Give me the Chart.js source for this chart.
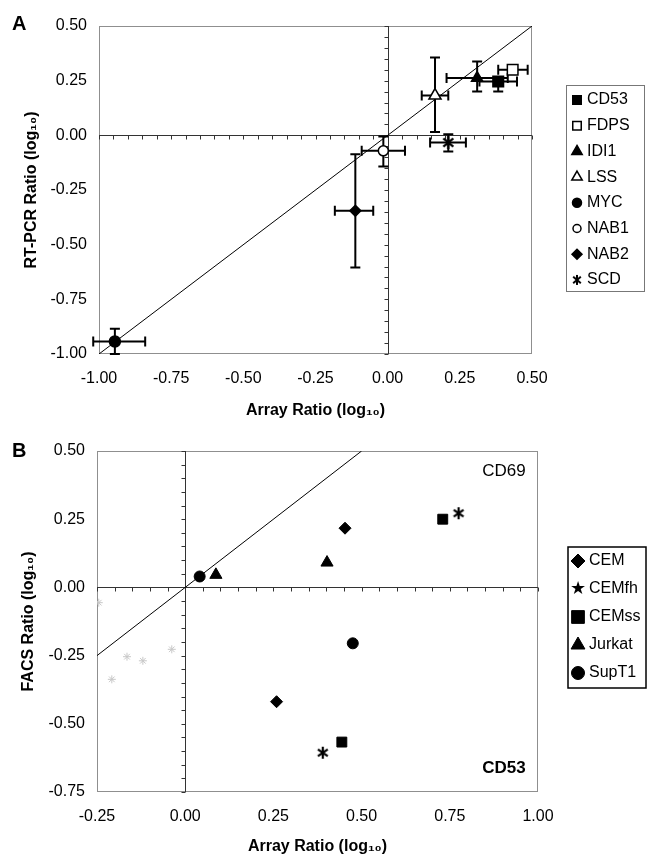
<!DOCTYPE html>
<html>
<head>
<meta charset="utf-8">
<title>Array vs RT-PCR / FACS ratios</title>
<script src="https://cdn.jsdelivr.net/npm/chart.js@4.4.0/dist/chart.umd.min.js"></script>
<style>
  html, body { margin: 0; padding: 0; background: #fff; }
  #wrap { position: relative; width: 647px; height: 856px; }
  #chartA { position: absolute; left: 0; top: 0; }
  #chartB { position: absolute; left: 0; top: 425px; }
</style>
</head>
<body>
<div id="wrap">
  <canvas id="chartA" width="647" height="425"></canvas>
  <canvas id="chartB" width="647" height="431"></canvas>
</div>
<script>
// ---- Panel A: array ratio vs RT-PCR ratio (log10), with error bars ----
const genes     = ['CD53', 'FDPS', 'IDI1', 'LSS', 'MYC', 'NAB1', 'NAB2', 'SCD'];
const arrayA    = [0.383, 0.433, 0.310, 0.164, -0.945, -0.015, -0.112, 0.210];
const pcrA      = [0.246, 0.300, 0.262, 0.182, -0.943, -0.071, -0.345, -0.033];
const arrayLowA = [0.318, 0.383, 0.204, 0.118, -1.020, -0.090, -0.183, 0.147];
const arrayHiA  = [0.448, 0.485, 0.416, 0.210, -0.840, 0.060, -0.050, 0.271];
const pcrLowA   = [0.200, 0.282, 0.200, 0.015, -1.000, -0.143, -0.604, -0.074];
const pcrHiA    = [0.266, 0.316, 0.338, 0.356, -0.885, -0.005, -0.086, 0.005];
const identityA = [-1.0, 0.5];

// ---- Panel B: array ratio vs FACS ratio, CD69 and CD53 per cell line ----
const cellLines = ['CEM', 'CEMfh', 'CEMss', 'Jurkat', 'SupT1'];
const cd69Array = [0.453, 0.775, 0.730, 0.402, 0.041];
const cd69Facs  = [0.217, 0.272, 0.250, 0.091, 0.040];
const cd53Array = [0.259, 0.390, 0.444, 0.087, 0.475];
const cd53Facs  = [-0.419, -0.606, -0.567, 0.046, -0.205];
const ghostX    = [-0.245, -0.208, -0.165, -0.120, -0.038];
const ghostY    = [-0.056, -0.337, -0.254, -0.269, -0.227];
const identityB = [-0.25, 0.5];

const tickStep = 0.25;
const minorStep = 0.05;
const FONT = '"Liberation Sans", Arial, sans-serif';

// six-spoke asterisk marker (SCD / CEMfh)
function asterisk(size, lw, spread) {
  const c = document.createElement('canvas');
  c.width = c.height = size;
  const g = c.getContext('2d');
  g.strokeStyle = '#000';
  g.lineWidth = lw;
  const m = size / 2, r = size / 2 - 1;
  g.beginPath();
  [90, spread, 180 - spread].forEach(a => {
    const t = a * Math.PI / 180;
    g.moveTo(m - r * Math.cos(t), m - r * Math.sin(t));
    g.lineTo(m + r * Math.cos(t), m + r * Math.sin(t));
  });
  g.stroke();
  return c;
}

const fmt = v => (Math.abs(v) < 1e-9 ? 0 : v).toFixed(2);

// frame, zero axes with minor ticks, error bars
const figurePlugin = {
  id: 'figure',
  beforeDatasetsDraw(chart) {
    const {ctx, chartArea: a, scales: {x, y}} = chart;
    ctx.save();
    ctx.strokeStyle = '#8f8f8f';
    ctx.lineWidth = 1;
    ctx.strokeRect(a.left + 0.5, a.top + 0.5, a.right - a.left - 1, a.bottom - a.top - 1);

    const x0 = Math.round(x.getPixelForValue(0)) + 0.5;
    const y0 = Math.round(y.getPixelForValue(0)) + 0.5;
    ctx.strokeStyle = '#333';
    ctx.beginPath();
    ctx.moveTo(a.left, y0); ctx.lineTo(a.right, y0);
    ctx.moveTo(x0, a.top); ctx.lineTo(x0, a.bottom);
    const nx = Math.round((x.max - x.min) / minorStep);
    for (let i = 0; i <= nx; i++) {
      const px = Math.round(x.getPixelForValue(x.min + i * minorStep)) + 0.5;
      ctx.moveTo(px, y0); ctx.lineTo(px, y0 + 4);
    }
    const ny = Math.round((y.max - y.min) / minorStep);
    for (let i = 0; i <= ny; i++) {
      const py = Math.round(y.getPixelForValue(y.min + i * minorStep)) + 0.5;
      ctx.moveTo(x0, py); ctx.lineTo(x0 - 4, py);
    }
    ctx.stroke();

    // error bars
    ctx.strokeStyle = '#000';
    ctx.lineWidth = 2;
    const cap = 5;
    chart.data.datasets.forEach(ds => {
      ds.data.forEach(p => {
        if (p.xMin === undefined) return;
        const cx = x.getPixelForValue(p.x), cy = y.getPixelForValue(p.y);
        const xl = x.getPixelForValue(p.xMin), xh = x.getPixelForValue(p.xMax);
        const yl = y.getPixelForValue(p.yMin), yh = y.getPixelForValue(p.yMax);
        ctx.beginPath();
        ctx.moveTo(xl, cy); ctx.lineTo(xh, cy);
        ctx.moveTo(xl, cy - cap); ctx.lineTo(xl, cy + cap);
        ctx.moveTo(xh, cy - cap); ctx.lineTo(xh, cy + cap);
        ctx.moveTo(cx, yl); ctx.lineTo(cx, yh);
        ctx.moveTo(cx - cap, yl); ctx.lineTo(cx + cap, yl);
        ctx.moveTo(cx - cap, yh); ctx.lineTo(cx + cap, yh);
        ctx.stroke();
      });
    });
    ctx.restore();
  },
  afterDraw(chart, args, o) {
    const {ctx, scales: {x, y}} = chart;
    ctx.save();
    ctx.fillStyle = '#000';
    ctx.textBaseline = 'middle';
    ctx.textAlign = 'left';
    ctx.font = 'bold 20px ' + FONT;
    ctx.fillText(o.panel, 12, o.panelY);
    (o.notes || []).forEach(n => {
      ctx.font = n.font;
      ctx.textAlign = 'right';
      ctx.fillText(n.text, x.getPixelForValue(n.x), y.getPixelForValue(n.y));
    });
    // boxed legend
    const L = o.legend;
    ctx.strokeStyle = L.borderColor;
    ctx.lineWidth = L.borderWidth;
    ctx.strokeRect(L.left, L.top, L.width, L.height);
    let row = 0;
    chart.data.datasets.forEach(ds => {
      if (!ds.inLegend) return;
      const yy = L.firstRow + row * L.rowStep;
      if (ds.legendGlyph) {
        ctx.fillStyle = '#000';
        ctx.font = '18px "DejaVu Sans", sans-serif';
        ctx.textAlign = 'center';
        ctx.fillText(ds.legendGlyph, L.symbolX, yy);
      } else {
        ctx.fillStyle = ds.backgroundColor;
        ctx.strokeStyle = ds.borderColor;
        ctx.lineWidth = ds.borderWidth;
        Chart.helpers.drawPoint(ctx, {
          pointStyle: ds.legendStyle || ds.pointStyle, radius: ds.legendRadius,
          rotation: 0, borderWidth: ds.borderWidth
        }, L.symbolX, yy);
      }
      ctx.fillStyle = '#000';
      ctx.font = '16px ' + FONT;
      ctx.textAlign = 'left';
      ctx.fillText(ds.label, L.textX, yy);
      row++;
    });
    ctx.restore();
  }
};

function axes(xMin, xMax, yMin, yMax, yWidth, xHeight, xTitle, yTitle, yTitlePad, xTitlePad) {
  return {
    x: {
      type: 'linear', min: xMin, max: xMax,
      grid: {display: false, drawTicks: false},
      border: {display: false},
      ticks: {stepSize: tickStep, callback: fmt, color: '#000', padding: 15,
              maxRotation: 0, autoSkip: false, font: {family: FONT, size: 16}},
      title: {display: true, text: xTitle, color: '#000',
              padding: {top: 0, bottom: xTitlePad}, font: {family: FONT, size: 16, weight: 'bold'}},
      afterFit: s => { s.height = xHeight; }
    },
    y: {
      type: 'linear', min: yMin, max: yMax,
      grid: {display: false, drawTicks: false},
      border: {display: false},
      ticks: {stepSize: tickStep, callback: fmt, color: '#000', padding: 12,
              autoSkip: false, font: {family: FONT, size: 16}},
      title: {display: true, text: yTitle, color: '#000',
              padding: {top: yTitlePad, bottom: 0}, font: {family: FONT, size: 16, weight: 'bold'}},
      afterFit: s => { s.width = yWidth; }
    }
  };
}

// ---- Panel A datasets ----
const stylesA = {
  CD53: {pointStyle: 'rect', pointRadius: 7.5, backgroundColor: '#000', legendRadius: 6},
  FDPS: {pointStyle: 'rect', pointRadius: 7.5, backgroundColor: '#fff', legendRadius: 6},
  IDI1: {pointStyle: 'triangle', pointRadius: 6.5, backgroundColor: '#000', legendRadius: 6},
  LSS:  {pointStyle: 'triangle', pointRadius: 7, backgroundColor: '#fff', legendRadius: 6},
  MYC:  {pointStyle: 'circle', pointRadius: 5.5, backgroundColor: '#000', legendRadius: 4.5},
  NAB1: {pointStyle: 'circle', pointRadius: 5, backgroundColor: '#fff', legendRadius: 4},
  NAB2: {pointStyle: 'rectRot', pointRadius: 5.5, backgroundColor: '#000', legendRadius: 5},
  SCD:  {pointStyle: asterisk(15, 2.2, 40), pointRadius: 6, backgroundColor: '#000',
         legendStyle: asterisk(12, 2, 40), legendRadius: 5}
};

const datasetsA = genes.map((g, i) => Object.assign({
  label: g,
  inLegend: true,
  data: [{x: arrayA[i], y: pcrA[i], xMin: arrayLowA[i], xMax: arrayHiA[i], yMin: pcrLowA[i], yMax: pcrHiA[i]}],
  borderColor: '#000',
  borderWidth: 1.5,
}, stylesA[g], {pointHoverRadius: stylesA[g].pointRadius}));
datasetsA.push({
  label: 'y = x',
  data: identityA.map(v => ({x: v, y: v})),
  showLine: true, borderColor: '#000', borderWidth: 1, pointRadius: 0
});

new Chart(document.getElementById('chartA'), {
  type: 'scatter',
  data: {datasets: datasetsA},
  options: {
    responsive: false,
    animation: false,
    events: [],
    layout: {padding: {top: 26, right: 115, left: 0, bottom: 0}},
    scales: axes(-1, 0.5, -1, 0.5, 99, 71, 'Array Ratio (log\u2081\u2080)', 'RT-PCR Ratio (log\u2081\u2080)', 22, 5),
    plugins: {
      legend: {display: false},
      tooltip: {enabled: false},
      figure: {
        panel: 'A', panelY: 24,
        legend: {left: 566.5, top: 85.5, width: 78, height: 206, borderColor: '#777', borderWidth: 1,
                 firstRow: 100, rowStep: 25.7, symbolX: 577, textX: 587}
      }
    }
  },
  plugins: [figurePlugin]
});

// ---- Panel B datasets ----
const stylesB = {
  CEM:    {pointStyle: 'rectRot', pointRadius: 6, legendRadius: 7},
  CEMfh:  {pointStyle: asterisk(14, 2.2, 35), pointRadius: 6, legendGlyph: '\u2605'},
  CEMss:  {pointStyle: 'rect', pointRadius: 7, legendRadius: 9},
  Jurkat: {pointStyle: 'triangle', pointRadius: 7, legendRadius: 8},
  SupT1:  {pointStyle: 'circle', pointRadius: 5.5, legendRadius: 6.5}
};

const datasetsB = cellLines.map((c, i) => Object.assign({
  label: c,
  inLegend: true,
  data: [{x: cd69Array[i], y: cd69Facs[i]}, {x: cd53Array[i], y: cd53Facs[i]}],
  backgroundColor: '#000',
  borderColor: '#000',
  borderWidth: 1,
}, stylesB[c], {pointHoverRadius: stylesB[c].pointRadius}));
datasetsB.push({
  label: 'faint',
  data: ghostX.map((v, i) => ({x: v, y: ghostY[i]})),
  pointStyle: 'star', pointRadius: 4, borderColor: '#c8c8c8', backgroundColor: '#c8c8c8', borderWidth: 1
});
datasetsB.push({
  label: 'y = x',
  data: identityB.map(v => ({x: v, y: v})),
  showLine: true, borderColor: '#000', borderWidth: 1, pointRadius: 0
});

new Chart(document.getElementById('chartB'), {
  type: 'scatter',
  data: {datasets: datasetsB},
  options: {
    responsive: false,
    animation: false,
    events: [],
    layout: {padding: {top: 26, right: 109, left: 0, bottom: 0}},
    scales: axes(-0.25, 1.0, -0.75, 0.5, 97, 64, 'Array Ratio (log\u2081\u2080)', 'FACS Ratio (log\u2081\u2080)', 19, 0),
    plugins: {
      legend: {display: false},
      tooltip: {enabled: false},
      figure: {
        panel: 'B', panelY: 26,
        notes: [
          {text: 'CD69', x: 0.965, y: 0.425, font: '17px ' + FONT},
          {text: 'CD53', x: 0.965, y: -0.662, font: 'bold 17px ' + FONT}
        ],
        legend: {left: 568, top: 122, width: 78, height: 141, borderColor: '#000', borderWidth: 1.5,
                 firstRow: 136, rowStep: 28, symbolX: 578, textX: 589}
      }
    }
  },
  plugins: [figurePlugin]
});
</script>
</body>
</html>
